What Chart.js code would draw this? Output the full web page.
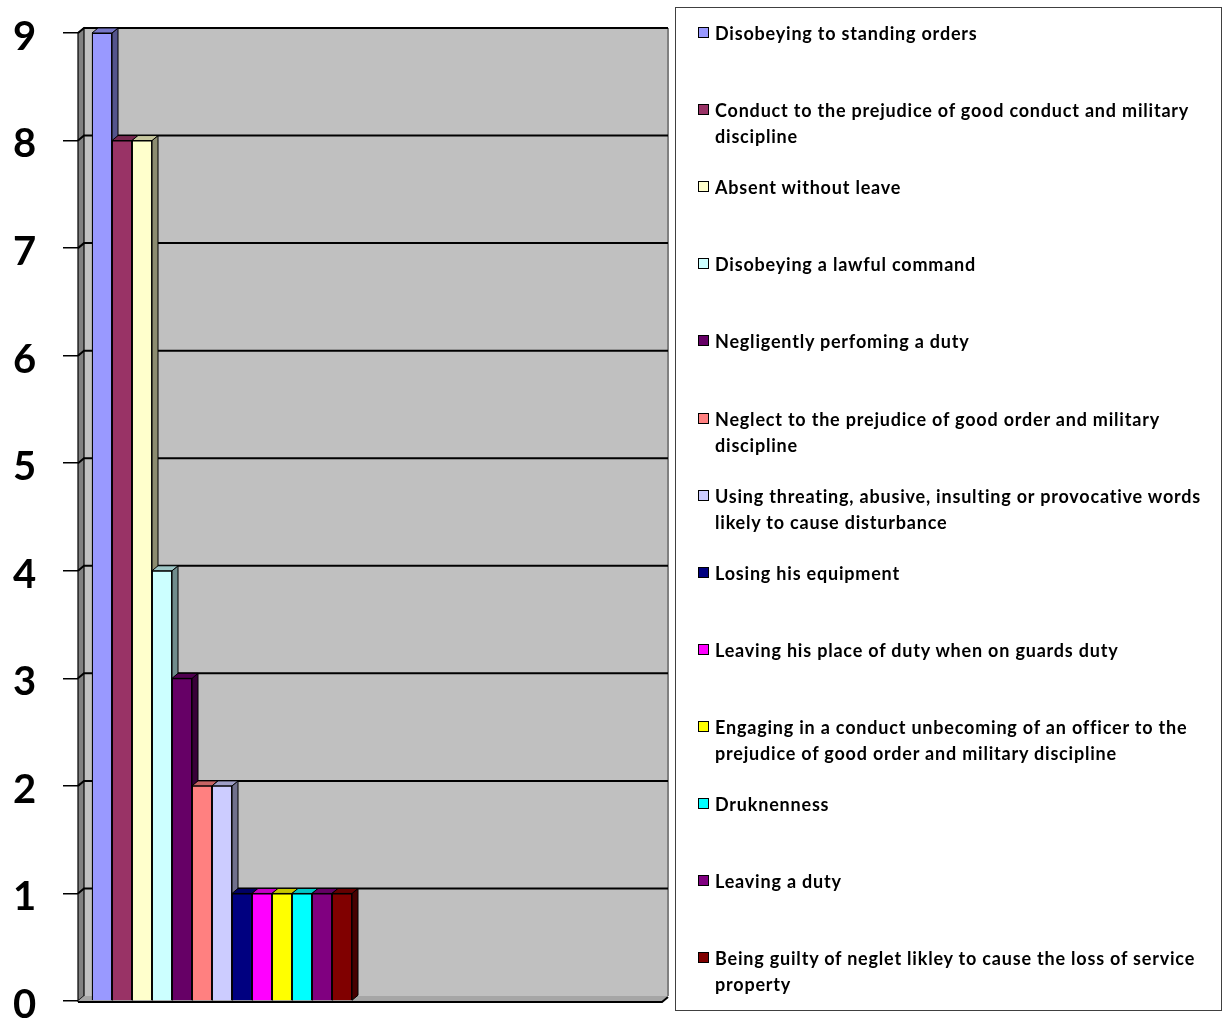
<!DOCTYPE html>
<html><head><meta charset="utf-8">
<script src="https://cdn.jsdelivr.net/npm/chart.js@4.4.1/dist/chart.umd.min.js"></script>
<style>
html,body{margin:0;padding:0;background:#fff;width:1225px;height:1021px;overflow:hidden;}
#wrap{position:relative;width:1225px;height:1021px;}
canvas{position:absolute;left:0;top:0;}
#legend{position:absolute;left:675px;top:7px;width:547px;height:1004px;border:1px solid #404040;box-sizing:border-box;font-family:Lato,'Open Sans',sans-serif;font-weight:bold;font-size:18px;letter-spacing:0.8px;color:#000;}
.item{position:absolute;left:0;}
.mk{position:absolute;left:22px;top:7px;width:9px;height:9px;border:1.5px solid #000;}
.tx{position:absolute;left:39px;top:0;width:505px;line-height:26px;white-space:normal;}
</style></head>
<body><div id="wrap"><canvas id="c" width="1225" height="1021"></canvas><div id="legend"></div></div>
<script>
const categories = [
  "Disobeying to standing orders",
  "Conduct to the prejudice of good conduct and military discipline",
  "Absent without leave",
  "Disobeying a lawful command",
  "Negligently perfoming a duty",
  "Neglect to the prejudice of good order and military discipline",
  "Using threating, abusive, insulting or provocative words likely to cause disturbance",
  "Losing his equipment",
  "Leaving his place of duty when on guards duty",
  "Engaging in a conduct unbecoming of an officer to the prejudice of good order and military discipline",
  "Druknenness",
  "Leaving a duty",
  "Being guilty of neglet likley to cause the loss of service property"
];
const values = [9, 8, 8, 4, 3, 2, 2, 1, 1, 1, 1, 1, 1];
const colors = ["#9999FF","#993366","#FFFFCC","#CCFFFF","#660066","#FF8080","#CCCCFF","#000080","#FF00FF","#FFFF00","#00FFFF","#800080","#800000"];
const yTicks = [0,1,2,3,4,5,6,7,8,9];

// legend (HTML, real text)
const lg = document.getElementById('legend');
categories.forEach((name, i) => {
  const it = document.createElement('div');
  it.className = 'item';
  it.style.top = (20 + 77.1 * i - 8) + 'px';
  const mk = document.createElement('div');
  mk.className = 'mk';
  mk.style.background = colors[i];
  const tx = document.createElement('div');
  tx.className = 'tx';
  tx.textContent = name;
  it.appendChild(mk); it.appendChild(tx);
  lg.appendChild(it);
});

const DX = 6, DY = -5;
function shade(hex, f) {
  const n = parseInt(hex.slice(1), 16);
  const r = Math.round(((n >> 16) & 255) * f), g = Math.round(((n >> 8) & 255) * f), b = Math.round((n & 255) * f);
  return 'rgb(' + r + ',' + g + ',' + b + ')';
}
function poly(ctx, pts, fill, stroke, lw) {
  ctx.beginPath();
  ctx.moveTo(pts[0][0], pts[0][1]);
  for (let k = 1; k < pts.length; k++) ctx.lineTo(pts[k][0], pts[k][1]);
  ctx.closePath();
  if (fill) { ctx.fillStyle = fill; ctx.fill(); }
  if (stroke) { ctx.strokeStyle = stroke; ctx.lineWidth = lw || 1; ctx.stroke(); }
}
const threeD = {
  id: 'threeD',
  beforeDatasetsDraw(chart) {
    const ctx = chart.ctx, a = chart.chartArea, ys = chart.scales.y;
    const L = a.left, R = a.right, T = a.top, B = a.bottom;
    ctx.save();
    ctx.lineJoin = 'miter';
    // back wall
    poly(ctx, [[L+DX,T+DY],[R+DX,T+DY],[R+DX,B+DY],[L+DX,B+DY]], '#C0C0C0');
    // left wall
    poly(ctx, [[L,T],[L+DX,T+DY],[L+DX,B+DY],[L,B]], '#808080', '#000', 1.2);
    // floor
    poly(ctx, [[L,B],[L+DX,B+DY],[R+DX,B+DY],[R,B]], '#A6A6A6');
    ctx.strokeStyle = '#000'; ctx.lineWidth = 2;
    ctx.beginPath(); ctx.moveTo(L, B+1); ctx.lineTo(R, B+1); ctx.lineTo(R+DX, B+DY+1); ctx.stroke();
    ctx.strokeStyle = '#808080'; ctx.lineWidth = 2;
    ctx.beginPath(); ctx.moveTo(R+DX, T+DY); ctx.lineTo(R+DX, B+DY); ctx.stroke();
    // gridlines
    ctx.strokeStyle = '#000'; ctx.lineWidth = 2;
    yTicks.forEach(v => {
      if (v === 0) return;
      const py = ys.getPixelForValue(v);
      ctx.beginPath(); ctx.moveTo(L, py); ctx.lineTo(L+DX, py+DY); ctx.lineTo(R+DX, py+DY); ctx.stroke();
    });
    // bar depth faces
    const meta = chart.getDatasetMeta(0);
    meta.data.forEach((el, i) => {
      const p = el.getProps(['x','y','base','width'], true);
      const l = p.x - p.width/2, r = p.x + p.width/2, top = p.y, base = p.base;
      poly(ctx, [[r,top],[r+DX,top+DY],[r+DX,base+DY],[r,base]], shade(colors[i], 0.55), '#000', 1);
      poly(ctx, [[l,top],[l+DX,top+DY],[r+DX,top+DY],[r,top]], shade(colors[i], 0.78), '#000', 1);
    });
    ctx.restore();
  }
};

new Chart(document.getElementById('c'), {
  type: 'bar',
  data: {
    datasets: [{
      label: 'Offences',
      data: values.map((v, i) => ({ x: i, y: v })),
      backgroundColor: colors,
      borderColor: '#000',
      borderWidth: 1.3,
      barPercentage: 1,
      categoryPercentage: 1
    }]
  },
  options: {
    responsive: false,
    animation: false,
    events: [],
    layout: { padding: { left: 13, right: 563, top: 33, bottom: 20 } },
    plugins: { legend: { display: false }, tooltip: { enabled: false } },
    scales: {
      x: {
        type: 'linear', min: -1.2, max: 28.0, display: false, offset: false,
        grid: { offset: false },
        afterBuildTicks(s) { s.ticks = values.map((v, i) => ({ value: i })); }
      },
      y: {
        min: 0, max: 9,
        afterBuildTicks(s) { s.ticks = yTicks.map(v => ({ value: v })); },
        ticks: { color: '#000', padding: 0, crossAlign: 'far', labelOffset: 4, font: { family: 'Lato', size: 40, weight: 'bold', lineHeight: 1 } },
        grid: { drawOnChartArea: false, drawTicks: true, tickLength: 15, tickColor: '#000', lineWidth: 1.5 },
        border: { display: false },
        afterFit(s) { s.width = 65; }
      }
    }
  },
  plugins: [threeD]
});
</script>
</body></html>
